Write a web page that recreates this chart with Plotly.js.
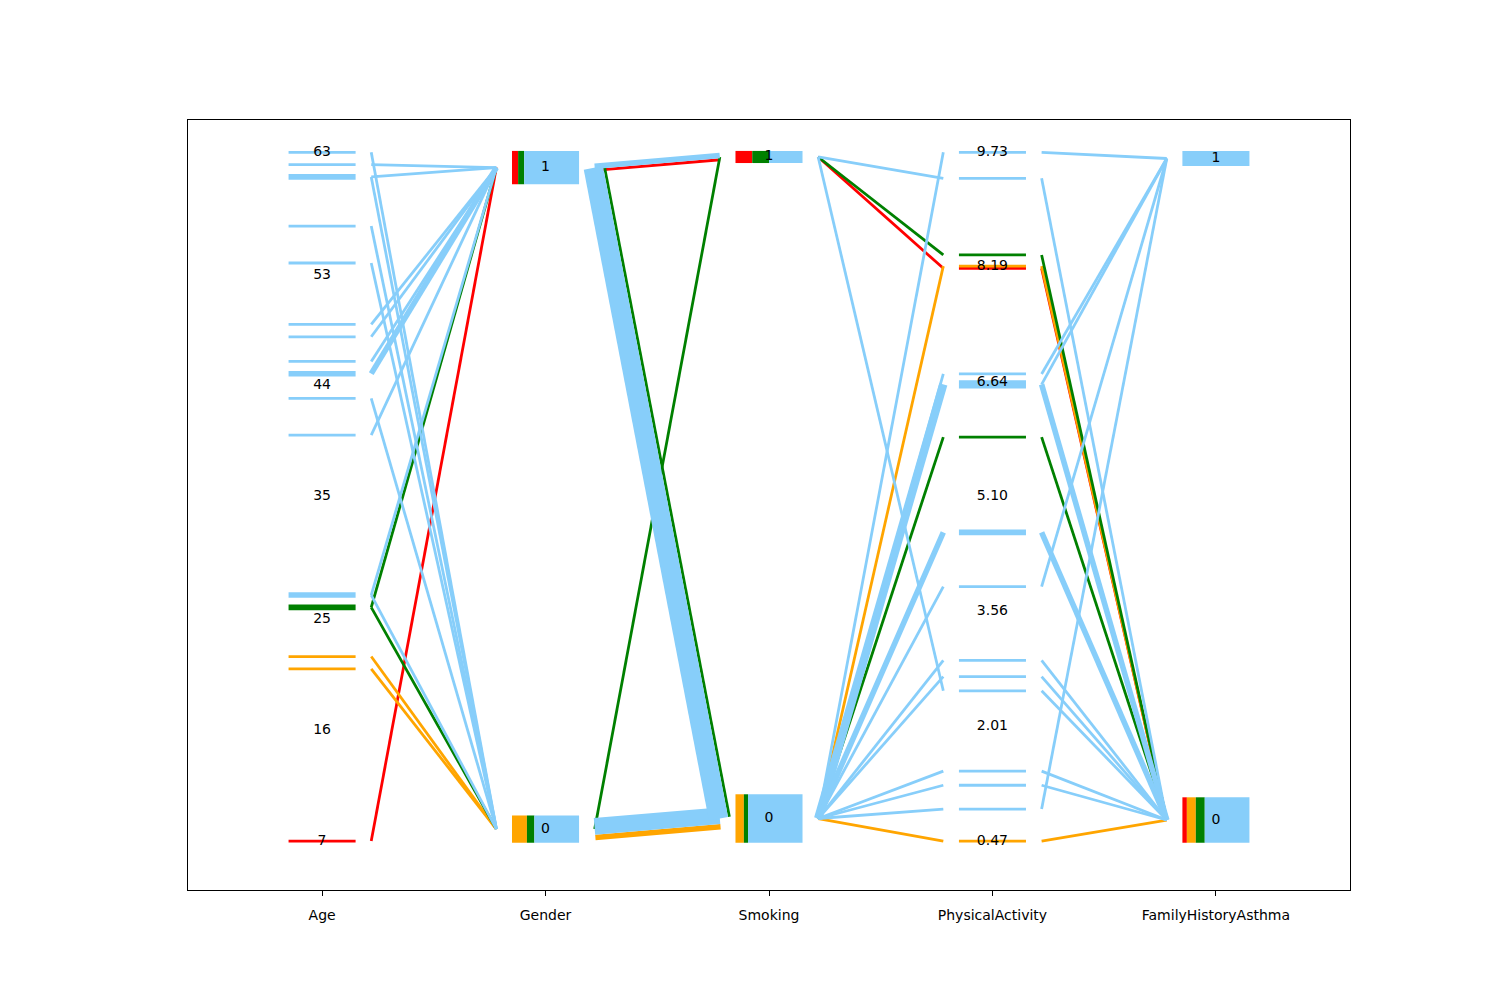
<!DOCTYPE html>
<html>
<head>
<meta charset="utf-8">
<script src="https://cdn.plot.ly/plotly-3.0.1.min.js"></script>
<style>html,body{margin:0;padding:0;background:#fff;}#chart{width:1500px;height:1000px;}</style>
</head>
<body>
<div id="chart"></div>
<script>
// ---- data (one entry per record) ----
const columns = ["Age", "Gender", "Smoking", "PhysicalActivity", "FamilyHistoryAsthma"];
const age = [7, 22, 21, 26, 26, 62, 61, 49, 48, 46, 45, 45, 40, 27, 63, 61, 57, 54, 43, 27];
const gender = [1, 0, 0, 1, 0, 1, 1, 1, 1, 1, 1, 1, 1, 1, 0, 0, 0, 0, 0, 0];
const smoking = [1, 0, 0, 0, 1, 1, 1, 0, 0, 0, 0, 0, 0, 0, 0, 0, 0, 0, 0, 0];
const physicalActivity = [8.17, 8.20, 0.47, 5.90, 8.35, 9.38, 2.49, 9.73, 6.75, 6.61, 6.61, 6.61, 4.62, 4.62, 3.89, 2.90, 2.68, 1.41, 1.22, 0.90];
const familyHistoryAsthma = [0, 0, 0, 0, 0, 0, 0, 1, 1, 1, 0, 0, 0, 0, 1, 0, 0, 0, 0, 1];
const groupOfRecord = [0, 1, 1, 2, 2, 3, 3, 3, 3, 3, 3, 3, 3, 3, 3, 3, 3, 3, 3, 3];
const groupColors = ["red", "orange", "green", "lightskyblue"];
const axisKinds = ["numeric", "categorical", "categorical", "numeric", "categorical"];

// ---- geometry settings ----
const W = 1500, H = 1000;
const margin = {l: 188, r: 150, t: 120, b: 110};
const xMin = -0.6, xMax = 4.6;
const yMin = -0.0711, yMax = 1.0469;
const plotW = W - margin.l - margin.r, plotH = H - margin.t - margin.b;
const pxX = plotW / (xMax - xMin), pxY = plotH / (yMax - yMin);
const U = 2.78;            // px of line width per record
const segHalf = 0.15;      // half width of value marks
const linkGap = 0.22;      // distance of link ends from axis center
const barUnit = 3.03 / pxY; // bar height per record (data units)
const barLo = -0.0025, barHi = 1.002;
const FONT = "DejaVu Sans, Liberation Sans, sans-serif";

const cols = [age, gender, smoking, physicalActivity, familyHistoryAsthma];
const N = age.length;
const nG = groupColors.length;

// position of each record on each axis
const axisInfo = cols.map((vals, ai) => {
  const kind = axisKinds[ai];
  if (kind === "numeric") {
    const mn = Math.min(...vals), mx = Math.max(...vals);
    return {kind, mn, mx, pos: vals.map(v => (v - mn) / (mx - mn))};
  } else {
    const cats = Array.from(new Set(vals)).sort((a, b) => a - b);
    const counts = {};
    vals.forEach(v => counts[v] = (counts[v] || 0) + 1);
    const centers = {};
    cats.forEach((c, i) => {
      const t = cats.length > 1 ? i / (cats.length - 1) : 0.5;
      const h = counts[c] * barUnit;
      centers[c] = barLo + t * (barHi - barLo - h) + h / 2;
    });
    return {kind, cats, counts, centers, pos: vals.map(v => centers[v])};
  }
});

const traces = [];
// ---- links between neighbouring axes ----
const linkTraces = [[], [], [], []];
for (let a = 0; a < cols.length - 1; a++) {
  const b = a + 1;
  const flows = {};
  for (let r = 0; r < N; r++) {
    const key = axisInfo[a].pos[r] + "|" + axisInfo[b].pos[r];
    if (!flows[key]) flows[key] = {y0: axisInfo[a].pos[r], y1: axisInfo[b].pos[r], cnt: new Array(nG).fill(0)};
    flows[key].cnt[groupOfRecord[r]]++;
  }
  Object.values(flows).forEach(f => {
    const x0 = a + linkGap, x1 = b - linkGap;
    let dx = (x1 - x0) * pxX, dy = -(f.y1 - f.y0) * pxY;
    const L = Math.hypot(dx, dy); dx /= L; dy /= L;
    let nx = -dy, ny = dx;
    if (nx < 0 || (nx === 0 && ny < 0)) { nx = -nx; ny = -ny; }
    const total = f.cnt.reduce((s, v) => s + v, 0);
    let cum = 0;
    for (let g = 0; g < nG; g++) {
      const c = f.cnt[g];
      if (!c) continue;
      const off = (total / 2 - cum - c / 2) * U;
      const ox = nx * off / pxX, oy = -ny * off / pxY;
      linkTraces[g].push({x: [x0 + ox, x1 + ox], y: [f.y0 + oy, f.y1 + oy], w: c * U});
      cum += c;
    }
  });
}
for (let g = 0; g < nG; g++) {
  linkTraces[g].forEach(l => traces.push({
    type: "scatter", mode: "lines", x: l.x, y: l.y, hoverinfo: "skip",
    line: {color: groupColors[g], width: l.w}
  }));
}

// ---- value marks / bars ----
const texts = {x: [], y: [], t: []};
axisInfo.forEach((info, ai) => {
  if (info.kind === "numeric") {
    const marks = {};
    for (let r = 0; r < N; r++) {
      const key = info.pos[r] + "|" + groupOfRecord[r];
      if (!marks[key]) marks[key] = {y: info.pos[r], g: groupOfRecord[r], c: 0};
      marks[key].c++;
    }
    for (let g = 0; g < nG; g++) {
      Object.values(marks).filter(m => m.g === g).forEach(m => traces.push({
        type: "scatter", mode: "lines", x: [ai - segHalf, ai + segHalf], y: [m.y, m.y],
        hoverinfo: "skip", line: {color: groupColors[g], width: m.c * U}
      }));
    }
    const isInt = cols[ai].every(v => Number.isInteger(v));
    for (let i = 0; i <= 6; i++) {
      const raw = info.mn + i * (info.mx - info.mn) / 6;
      const shown = isInt ? Math.trunc(raw + 1e-9) : Math.round(raw * 100) / 100;
      texts.x.push(ai);
      texts.y.push((shown - info.mn) / (info.mx - info.mn));
      texts.t.push(isInt ? String(shown) : shown.toFixed(2));
    }
  } else {
    info.cats.forEach(c => {
      const h = info.counts[c] * barUnit;
      const yc = info.centers[c];
      const gc = new Array(nG).fill(0);
      for (let r = 0; r < N; r++) if (cols[ai][r] === c) gc[groupOfRecord[r]]++;
      let left = ai - segHalf;
      for (let g = 0; g < nG; g++) {
        if (!gc[g]) continue;
        const wdt = 2 * segHalf * gc[g] / info.counts[c];
        traces.push({
          type: "scatter", mode: "lines", fill: "toself", fillcolor: groupColors[g],
          x: [left, left + wdt, left + wdt, left, left],
          y: [yc - h / 2, yc - h / 2, yc + h / 2, yc + h / 2, yc - h / 2],
          line: {width: 0, color: groupColors[g]}, hoverinfo: "skip"
        });
        left += wdt;
      }
      texts.x.push(ai); texts.y.push(yc); texts.t.push(String(c));
    });
  }
});

traces.push({
  type: "scatter", mode: "text", x: texts.x, y: texts.y, text: texts.t,
  textposition: "middle center", hoverinfo: "skip",
  textfont: {family: FONT, size: 14, color: "black"}
});

const layout = {
  width: W, height: H, autosize: false, margin: margin,
  paper_bgcolor: "white", plot_bgcolor: "white", showlegend: false,
  xaxis: {
    range: [xMin, xMax], tickmode: "array", tickvals: columns.map((_, i) => i), ticktext: columns,
    showgrid: false, zeroline: false, showline: true, mirror: true, linecolor: "black", linewidth: 1,
    ticks: "outside", ticklen: 5, tickcolor: "black", tickwidth: 1, ticklabelstandoff: 7,
    tickfont: {family: FONT, size: 14, color: "black"}
  },
  yaxis: {
    range: [yMin, yMax], showticklabels: false, showgrid: false, zeroline: false,
    showline: true, mirror: true, linecolor: "black", linewidth: 1, ticks: ""
  }
};
Plotly.newPlot("chart", traces, layout, {staticPlot: true, displayModeBar: false});
</script>
</body>
</html>
